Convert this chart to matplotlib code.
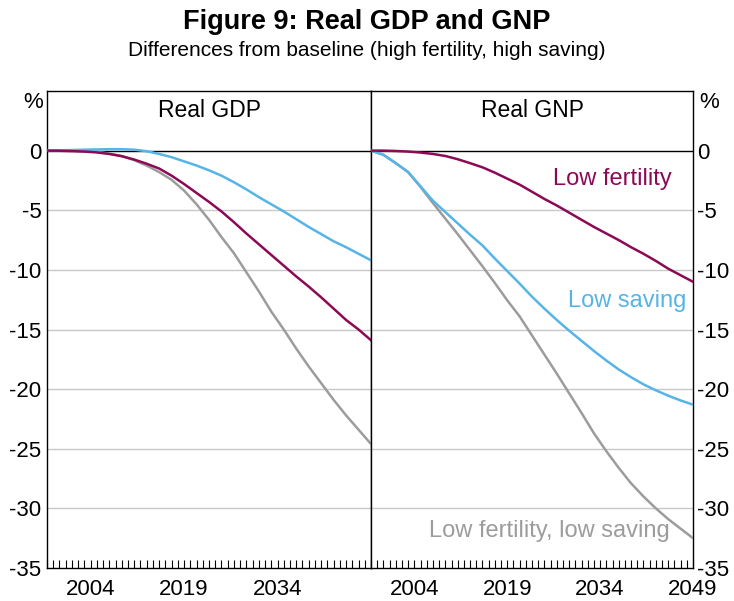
import matplotlib
matplotlib.use('Agg')
import matplotlib.pyplot as plt
from matplotlib.ticker import MultipleLocator

plt.rcParams['font.family'] = ['Liberation Sans', 'DejaVu Sans']
plt.rcParams['axes.unicode_minus'] = False

# values, % difference from baseline, every 2 years
years = list(range(1997, 2050, 2))

gdp_low_fertility = [0, -0.01, -0.04, -0.08, -0.15, -0.28, -0.47, -0.75, -1.1, -1.5,
                     -2.1, -2.8, -3.55, -4.3, -5.1, -6.0, -6.95, -7.85, -8.75, -9.65,
                     -10.55, -11.4, -12.3, -13.25, -14.2, -15.0, -15.9]
gdp_low_saving = [0, 0.02, 0.05, 0.08, 0.1, 0.12, 0.12, 0.08, -0.05, -0.28,
                  -0.55, -0.9, -1.25, -1.65, -2.1, -2.65, -3.25, -3.9, -4.5, -5.1,
                  -5.75, -6.4, -7.0, -7.6, -8.1, -8.65, -9.2]
gdp_both = [0, 0, -0.01, -0.03, -0.1, -0.25, -0.45, -0.8, -1.25, -1.8,
            -2.45, -3.35, -4.5, -5.8, -7.25, -8.6, -10.2, -11.8, -13.5, -15.0,
            -16.6, -18.1, -19.5, -20.9, -22.2, -23.4, -24.6]

gnp_low_fertility = [0, 0, -0.03, -0.08, -0.16, -0.28, -0.45, -0.72, -1.05, -1.4,
                     -1.85, -2.35, -2.85, -3.45, -4.05, -4.6, -5.2, -5.8, -6.4, -6.95,
                     -7.5, -8.1, -8.65, -9.25, -9.9, -10.45, -11.0]
gnp_low_saving = [0, -0.35, -1.05, -1.8, -3.0, -4.2, -5.15, -6.1, -7.05, -7.95,
                  -9.05, -10.1, -11.15, -12.25, -13.25, -14.2, -15.1, -15.95, -16.8, -17.6,
                  -18.35, -19.0, -19.6, -20.1, -20.55, -20.95, -21.3]
gnp_both = [0, -0.35, -1.05, -1.8, -3.05, -4.4, -5.7, -7.0, -8.35, -9.7,
            -11.1, -12.55, -13.9, -15.5, -17.1, -18.7, -20.35, -22.0, -23.7, -25.2,
            -26.6, -27.9, -29.0, -30.0, -30.9, -31.7, -32.5]

yticks = [0, -5, -10, -15, -20, -25, -30, -35]
xlabels_left = [2004, 2019, 2034]
xlabels_right = [2004, 2019, 2034, 2049]

purple = '#8c0a55'
blue = '#56b4e6'
grey = '#9c9c9c'

fig = plt.figure(figsize=(7.34, 6.01), dpi=100)
W, H = 734, 601
ax1 = fig.add_axes([47 / W, 1 - 568 / H, 324 / W, 477 / H])
ax2 = fig.add_axes([371 / W, 1 - 568 / H, 322 / W, 477 / H])

panels = [
    (ax1, 'Real GDP', gdp_low_fertility, gdp_low_saving, gdp_both, xlabels_left),
    (ax2, 'Real GNP', gnp_low_fertility, gnp_low_saving, gnp_both, xlabels_right),
]

for ax, title, fert, sav, both, xl in panels:
    ax.set_xlim(1997, 2049)
    ax.set_ylim(-35, 5)
    for v in yticks[1:-1]:
        ax.axhline(v, color='#c8c8c8', lw=1.0, zorder=1)
    ax.axhline(0, color='black', lw=1.0, zorder=1)
    ax.plot(years, both, color=grey, lw=1.8, zorder=3)
    ax.plot(years, sav, color=blue, lw=1.8, zorder=4)
    ax.plot(years, fert, color=purple, lw=1.8, zorder=5)
    ax.text(2023, 3.4, title, ha='center', va='center', fontsize=16.5)
    ax.set_yticks(yticks)
    ax.set_xticks(xl)
    ax.set_xticklabels([str(x) for x in xl])
    ax.xaxis.set_minor_locator(MultipleLocator(1))
    ax.tick_params(axis='x', which='both', direction='in', length=6,
                   width=0.8, labelsize=16, pad=8)
    ax.tick_params(axis='y', length=0, labelsize=16, pad=4)
    for s in ax.spines.values():
        s.set_linewidth(1.0)
        s.set_color('black')

ax1.yaxis.set_ticks_position('left')
ax2.yaxis.tick_right()
ax2.tick_params(axis='y', pad=3)

fig.text(33 / W, 1 - 102 / H, '%', ha='center', va='center', fontsize=16)
fig.text(709 / W, 1 - 102 / H, '%', ha='center', va='center', fontsize=16)

ax2.text(2045.6, -2.4, 'Low fertility', color=purple, ha='right', va='center', fontsize=17)
ax2.text(2048.0, -12.6, 'Low saving', color=blue, ha='right', va='center', fontsize=17)
ax2.text(2045.3, -31.9, 'Low fertility, low saving', color=grey, ha='right', va='center', fontsize=17)

fig.text(0.5, 1 - 22 / H, 'Figure 9: Real GDP and GNP', ha='center', va='center',
         fontsize=19.5, fontweight='bold')
fig.text(0.5, 1 - 50 / H, 'Differences from baseline (high fertility, high saving)',
         ha='center', va='center', fontsize=15)

fig.savefig('out.png', dpi=100)
